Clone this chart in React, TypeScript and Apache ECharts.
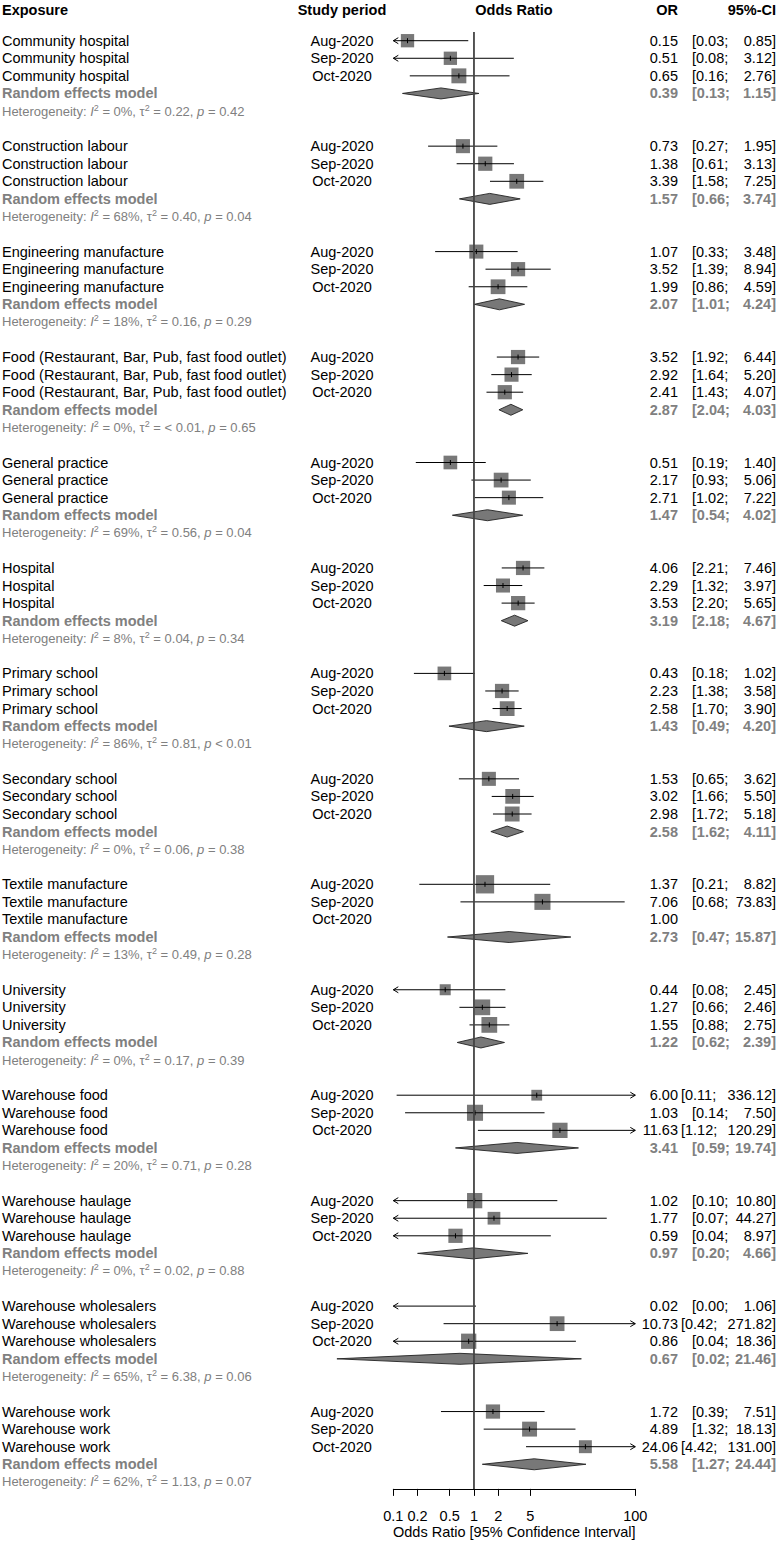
import React, { useEffect, useRef } from "react";
import * as echarts from "echarts";

// ---------------- DATA ----------------
const exposures = [
  "Community hospital",
  "Construction labour",
  "Engineering manufacture",
  "Food (Restaurant, Bar, Pub, fast food outlet)",
  "General practice",
  "Hospital",
  "Primary school",
  "Secondary school",
  "Textile manufacture",
  "University",
  "Warehouse food",
  "Warehouse haulage",
  "Warehouse wholesalers",
  "Warehouse work",
];
const periods = ["Aug-2020", "Sep-2020", "Oct-2020"];

const studyOR = [
  [0.15, 0.51, 0.65],
  [0.73, 1.38, 3.39],
  [1.07, 3.52, 1.99],
  [3.52, 2.92, 2.41],
  [0.51, 2.17, 2.71],
  [4.06, 2.29, 3.53],
  [0.43, 2.23, 2.58],
  [1.53, 3.02, 2.98],
  [1.37, 7.06, 1.0],
  [0.44, 1.27, 1.55],
  [6.0, 1.03, 11.63],
  [1.02, 1.77, 0.59],
  [0.02, 10.73, 0.86],
  [1.72, 4.89, 24.06],
];
const studyLower: (number | null)[][] = [
  [0.03, 0.08, 0.16],
  [0.27, 0.61, 1.58],
  [0.33, 1.39, 0.86],
  [1.92, 1.64, 1.43],
  [0.19, 0.93, 1.02],
  [2.21, 1.32, 2.2],
  [0.18, 1.38, 1.7],
  [0.65, 1.66, 1.72],
  [0.21, 0.68, null],
  [0.08, 0.66, 0.88],
  [0.11, 0.14, 1.12],
  [0.098, 0.07, 0.04],
  [0.0, 0.42, 0.04],
  [0.39, 1.32, 4.42],
];
const studyUpper: (number | null)[][] = [
  [0.85, 3.12, 2.76],
  [1.95, 3.13, 7.25],
  [3.48, 8.94, 4.59],
  [6.44, 5.2, 4.07],
  [1.4, 5.06, 7.22],
  [7.46, 3.97, 5.65],
  [1.02, 3.58, 3.9],
  [3.62, 5.5, 5.18],
  [8.82, 73.83, null],
  [2.45, 2.46, 2.75],
  [336.12, 7.5, 120.29],
  [10.8, 44.27, 8.97],
  [1.06, 271.82, 18.36],
  [7.51, 18.13, 131.0],
];
// relative study weight (drives the square size)
const boxWeight = [
  [35, 35, 44],
  [39, 40, 43],
  [39, 40, 43],
  [40, 39, 40],
  [37, 43, 39],
  [40, 39, 40],
  [37, 40, 43],
  [39, 43, 43],
  [66, 51, 0],
  [24, 49, 49],
  [23, 51, 46],
  [46, 32, 40],
  [40, 43, 46],
  [40, 44, 33],
];

const reOR = [0.39, 1.57, 2.07, 2.87, 1.47, 3.19, 1.43, 2.58, 2.73, 1.22, 3.41, 0.97, 0.67, 5.58];
const reLower = [0.13, 0.66, 1.01, 2.04, 0.54, 2.18, 0.49, 1.62, 0.47, 0.62, 0.59, 0.2, 0.02, 1.27];
const reUpper = [1.15, 3.74, 4.24, 4.03, 4.02, 4.67, 4.2, 4.11, 15.87, 2.39, 19.74, 4.66, 21.46, 24.44];

const hetI2 = [0, 68, 18, 0, 69, 8, 86, 0, 13, 0, 20, 0, 65, 62];
const hetTau2 = ["0.22", "0.40", "0.16", "< 0.01", "0.56", "0.04", "0.81", "0.06", "0.49", "0.17", "0.71", "0.02", "6.38", "1.13"];
const hetP = ["0.42", "0.04", "0.29", "0.65", "0.04", "0.34", "< 0.01", "0.38", "0.28", "0.39", "0.28", "0.88", "0.06", "0.07"];

const tickValues = [0.1, 0.2, 0.5, 1, 2, 5, 100];
const axisMin = 0.1;
const axisMax = 100;
const headers = ["Exposure", "Study period", "Odds Ratio", "OR", "95%-CI"];
const axisTitle = "Odds Ratio [95% Confidence Interval]";

// ---------------- LAYOUT ----------------
const W = 776;
const H = 1542;
const FONT = "'Liberation Sans', Arial, Helvetica, sans-serif";
const GRAY = "#808080";
const ROW0_Y = 40.7;
const ROW_H = 17.575;
const ROW_MIN = -0.5;
const ROW_MAX = 82.4;
const GRID_TOP = ROW0_Y + ROW_MIN * ROW_H;
const GRID_BOTTOM = H - (ROW0_Y + ROW_MAX * ROW_H);
const PLOT_LEFT = 393.3;
const PLOT_RIGHT = W - 635.3;
const HEAD_ROW = -1.75;
const X_EXPO = 2;
const X_PERIOD = 342;
const X_ODDS = 514;
const X_OR = 678;
const X_CI_L = 692;
const X_CI_L_WIDE = 681;
const X_CI_R = 776;

const LMIN = Math.log10(axisMin);
const LMAX = Math.log10(axisMax);
const lg = (v: number) => Math.log10(v);
const fmt = (v: number) => v.toFixed(2);

type Kind = "head" | "study" | "re" | "het";
type TItem = { x: number; row: number; text: string; align: "left" | "center" | "right"; kind: Kind };

const textItems: TItem[] = [];
textItems.push({ x: X_EXPO, row: HEAD_ROW, text: headers[0], align: "left", kind: "head" });
textItems.push({ x: X_PERIOD, row: HEAD_ROW, text: headers[1], align: "center", kind: "head" });
textItems.push({ x: X_ODDS, row: HEAD_ROW, text: headers[2], align: "center", kind: "head" });
textItems.push({ x: X_OR, row: HEAD_ROW, text: headers[3], align: "right", kind: "head" });
textItems.push({ x: X_CI_R, row: HEAD_ROW, text: headers[4], align: "right", kind: "head" });

type CIItem = { row: number; xl: number; xr: number; arrowL: boolean; arrowR: boolean };
type BoxItem = { row: number; x: number; w: number };
const ciItems: CIItem[] = [];
const boxItems: BoxItem[] = [];
const diamondItems: { row: number; lo: number; mid: number; hi: number }[] = [];

exposures.forEach((name, g) => {
  for (let j = 0; j < 3; j++) {
    const row = 6 * g + j;
    const or = studyOR[g][j];
    const lo = studyLower[g][j];
    const hi = studyUpper[g][j];
    textItems.push({ x: X_EXPO, row, text: name, align: "left", kind: "study" });
    textItems.push({ x: X_PERIOD, row, text: periods[j], align: "center", kind: "study" });
    textItems.push({ x: X_OR, row, text: fmt(or), align: "right", kind: "study" });
    if (lo !== null && hi !== null) {
      const xl = hi >= 100 ? X_CI_L_WIDE : X_CI_L;
      textItems.push({ x: xl, row, text: "[" + fmt(lo) + ";", align: "left", kind: "study" });
      textItems.push({ x: X_CI_R, row, text: fmt(hi) + "]", align: "right", kind: "study" });
      const llo = lo > 0 ? lg(lo) : -Infinity;
      const lhi = lg(hi);
      ciItems.push({
        row,
        xl: Math.max(LMIN, llo),
        xr: Math.min(LMAX, lhi),
        arrowL: llo < LMIN,
        arrowR: lhi > LMAX,
      });
      const lor = lg(or);
      if (boxWeight[g][j] > 0 && lor >= LMIN && lor <= LMAX) {
        boxItems.push({ row, x: lor, w: boxWeight[g][j] });
      }
    }
  }
  const reRow = 6 * g + 3;
  textItems.push({ x: X_EXPO, row: reRow, text: "Random effects model", align: "left", kind: "re" });
  textItems.push({ x: X_OR, row: reRow, text: fmt(reOR[g]), align: "right", kind: "re" });
  textItems.push({ x: X_CI_L, row: reRow, text: "[" + fmt(reLower[g]) + ";", align: "left", kind: "re" });
  textItems.push({ x: X_CI_R, row: reRow, text: fmt(reUpper[g]) + "]", align: "right", kind: "re" });
  diamondItems.push({ row: reRow, lo: lg(reLower[g]), mid: lg(reOR[g]), hi: lg(reUpper[g]) });

  const hetRow = 6 * g + 4;
  const tau = hetTau2[g];
  const p = hetP[g];
  const pPart = p.startsWith("<") ? " " + p : " = " + p;
  const het =
    "{n|Heterogeneity: }{i|I}{s|2}{n| = " + hetI2[g] + "%, τ}{s|2}{n| = " + tau + ", }{i|p}{n|" + pPart + "}";
  textItems.push({ x: X_EXPO, row: hetRow, text: het, align: "left", kind: "het" });
});

const hetRich = {
  n: { fontSize: 13, fontFamily: FONT, fill: GRAY, lineHeight: 16, verticalAlign: "middle" },
  i: { fontSize: 13, fontFamily: FONT, fontStyle: "italic", fill: GRAY, lineHeight: 16, verticalAlign: "middle" },
  s: { fontSize: 9, fontFamily: FONT, fill: GRAY, lineHeight: 9, verticalAlign: "top" },
};

function kindStyle(kind: Kind): any {
  switch (kind) {
    case "head":
      return { fontSize: 14.5, fontFamily: FONT, fontWeight: "bold", fill: "#000" };
    case "study":
      return { fontSize: 14.5, fontFamily: FONT, fill: "#000" };
    case "re":
      return { fontSize: 14.5, fontFamily: FONT, fontWeight: "bold", fill: GRAY };
    default:
      return { fontSize: 13, fontFamily: FONT, fill: GRAY, rich: hetRich };
  }
}

const BOX_COLOR = "#787878";

function buildOption(): any {
  const logTicks = tickValues.map((v) => lg(v));
  return {
    animation: false,
    backgroundColor: "#fff",
    grid: [
      { left: 0, right: 0, top: GRID_TOP, bottom: GRID_BOTTOM, containLabel: false, outerBoundsMode: "none" },
      { left: PLOT_LEFT, right: PLOT_RIGHT, top: GRID_TOP, bottom: GRID_BOTTOM, containLabel: false, outerBoundsMode: "none" },
    ],
    xAxis: [
      { gridIndex: 0, type: "value", min: 0, max: W, show: false },
      {
        gridIndex: 1,
        type: "value",
        min: LMIN,
        max: LMAX,
        position: "bottom",
        splitLine: { show: false },
        axisLine: { show: true, onZero: false, lineStyle: { color: "#000", width: 1 } },
        axisTick: { show: true, customValues: logTicks, length: 7, lineStyle: { color: "#000", width: 1 } },
        axisLabel: {
          show: true,
          customValues: logTicks,
          margin: 20,
          color: "#000",
          fontSize: 14.5,
          fontFamily: FONT,
          formatter: (v: number) => String(parseFloat(Math.pow(10, v).toPrecision(2))),
        },
        name: axisTitle,
        nameLocation: "middle",
        nameGap: 36,
        nameMoveOverlap: false,
        nameTextStyle: { color: "#000", fontSize: 14.5, fontFamily: FONT, verticalAlign: "top" },
      },
    ],
    yAxis: [
      { gridIndex: 0, type: "value", inverse: true, min: ROW_MIN, max: ROW_MAX, show: false },
      { gridIndex: 1, type: "value", inverse: true, min: ROW_MIN, max: ROW_MAX, show: false },
    ],
    series: [
      {
        type: "custom",
        name: "texts",
        xAxisIndex: 0,
        yAxisIndex: 0,
        silent: true,
        encode: { x: 0, y: 1 },
        data: textItems.map((t) => [t.x, t.row]),
        renderItem: (params: any, api: any) => {
          const t = textItems[params.dataIndex];
          const pt = api.coord([api.value(0), api.value(1)]);
          return {
            type: "text",
            x: pt[0],
            y: pt[1],
            silent: true,
            style: { text: t.text, align: t.align, verticalAlign: "middle", ...kindStyle(t.kind) },
          };
        },
      },
      {
        type: "custom",
        name: "squares",
        xAxisIndex: 1,
        yAxisIndex: 1,
        silent: true,
        z: 2,
        encode: { x: 0, y: 1 },
        data: boxItems.map((b) => [b.x, b.row, b.w]),
        renderItem: (params: any, api: any) => {
          const pt = api.coord([api.value(0), api.value(1)]);
          const s = 2.25 * Math.sqrt(api.value(2));
          return {
            type: "group",
            children: [
              {
                type: "rect",
                shape: { x: pt[0] - s / 2, y: pt[1] - s / 2, width: s, height: s },
                style: { fill: BOX_COLOR },
              },
              {
                type: "line",
                shape: { x1: pt[0], y1: pt[1] - 2.5, x2: pt[0], y2: pt[1] + 2.5 },
                style: { stroke: "#000", lineWidth: 1 },
                z2: 5,
              },
            ],
          };
        },
      },
      {
        type: "custom",
        name: "ci",
        xAxisIndex: 1,
        yAxisIndex: 1,
        silent: true,
        z: 3,
        encode: { x: 0, y: 1 },
        data: ciItems.map((c) => [c.xl, c.row, c.xr]),
        renderItem: (params: any, api: any) => {
          const c = ciItems[params.dataIndex];
          const pl = api.coord([c.xl, c.row]);
          const pr = api.coord([c.xr, c.row]);
          const y = pl[1];
          const children: any[] = [
            { type: "line", shape: { x1: pl[0], y1: y, x2: pr[0], y2: y }, style: { stroke: "#000", lineWidth: 1 } },
          ];
          if (c.arrowL) {
            children.push({
              type: "polyline",
              shape: { points: [[pl[0] + 5, y - 3], [pl[0], y], [pl[0] + 5, y + 3]] },
              style: { stroke: "#000", lineWidth: 1, fill: null },
            });
          }
          if (c.arrowR) {
            children.push({
              type: "polyline",
              shape: { points: [[pr[0] - 5, y - 3], [pr[0], y], [pr[0] - 5, y + 3]] },
              style: { stroke: "#000", lineWidth: 1, fill: null },
            });
          }
          return { type: "group", children };
        },
      },
      {
        type: "custom",
        name: "diamonds",
        xAxisIndex: 1,
        yAxisIndex: 1,
        silent: true,
        z: 2,
        encode: { x: 1, y: 0 },
        data: diamondItems.map((d) => [d.row, d.mid, d.lo, d.hi]),
        renderItem: (params: any, api: any) => {
          const d = diamondItems[params.dataIndex];
          const pl = api.coord([d.lo, d.row]);
          const pm = api.coord([d.mid, d.row]);
          const pr = api.coord([d.hi, d.row]);
          const h = 5.5;
          return {
            type: "polygon",
            shape: { points: [[pl[0], pl[1]], [pm[0], pm[1] - h], [pr[0], pr[1]], [pm[0], pm[1] + h]] },
            style: { fill: BOX_COLOR, stroke: "#222", lineWidth: 0.9 },
          };
        },
      },
      {
        type: "custom",
        name: "reference",
        xAxisIndex: 1,
        yAxisIndex: 1,
        silent: true,
        z: 6,
        encode: { x: 0, y: 1 },
        data: [[lg(1), ROW_MIN]],
        renderItem: (params: any, api: any) => {
          const top = api.coord([api.value(0), ROW_MIN]);
          const bot = api.coord([api.value(0), ROW_MAX]);
          return {
            type: "line",
            shape: { x1: top[0], y1: top[1], x2: bot[0], y2: bot[1] },
            style: { stroke: "#444", lineWidth: 1.8 },
          };
        },
      },
    ],
  };
}

export default function App() {
  const ref = useRef<HTMLDivElement>(null);
  useEffect(() => {
    if (!ref.current) return;
    const chart = echarts.init(ref.current, null, { renderer: "svg" });
    chart.setOption(buildOption());
    return () => chart.dispose();
  }, []);
  return (
    <div
      ref={ref}
      style={{ position: "absolute", left: 0, top: 0, width: W, height: H, background: "#fff" }}
    />
  );
}
